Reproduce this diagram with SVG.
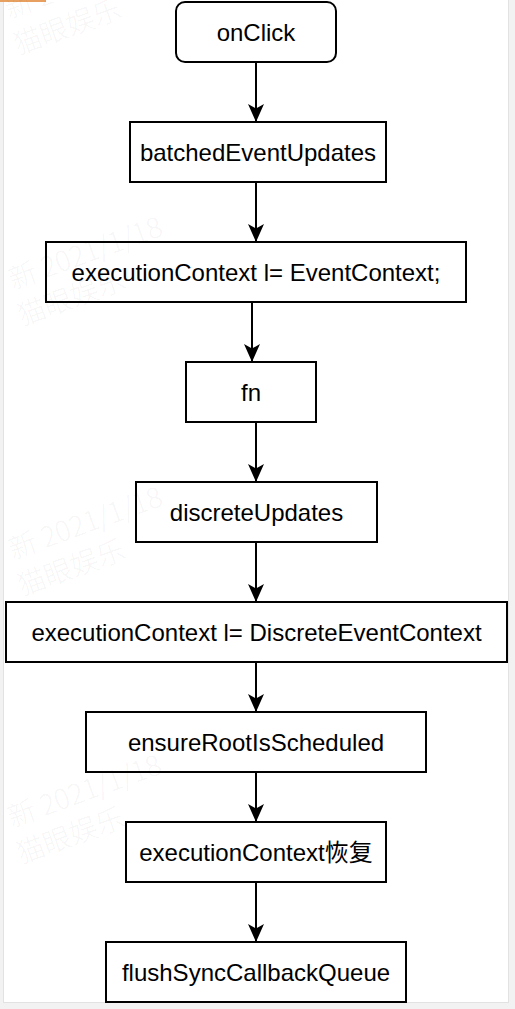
<svg xmlns="http://www.w3.org/2000/svg" width="515" height="1009" viewBox="0 0 515 1009">
<style>
.box{fill:#fff;stroke:#000;stroke-width:2}
.lbl{font-family:"Liberation Sans","Noto Sans CJK SC",Arial,sans-serif;font-size:24px;fill:#000;text-anchor:middle}
.wm{font-family:"Noto Sans CJK SC","Liberation Sans",sans-serif;font-size:28px;font-weight:300;fill:#000;fill-opacity:0.05}
.conn{stroke:#000;stroke-width:2;fill:none}
</style>
<defs>
<marker id="arr" viewBox="0 0 18 16" refX="18" refY="8" markerWidth="18" markerHeight="16" markerUnits="userSpaceOnUse" orient="auto">
<path d="M0,0 L18,8 L0,16 L4.5,8 Z" fill="#000"/>
</marker>
<g id="wmark">
<text class="wm" x="4" y="-37">新 2021/1/18</text>
<text class="wm" x="0" y="0">猫眼娱乐</text>
</g>
</defs>
<rect x="0" y="0" width="515" height="1009" fill="#f2f2f2"/>
<rect x="3.5" y="-1" width="505" height="1003.5" fill="#fff" stroke="#e2e2e2" stroke-width="1"/>
<rect x="0" y="0" width="46" height="2" fill="#e8a060"/>
<g id="connectors">
<line class="conn" x1="256" y1="62" x2="256" y2="122" marker-end="url(#arr)"/>
<line class="conn" x1="256" y1="182" x2="256" y2="242" marker-end="url(#arr)"/>
<line class="conn" x1="252" y1="302" x2="252" y2="362" marker-end="url(#arr)"/>
<line class="conn" x1="256" y1="422" x2="256" y2="482" marker-end="url(#arr)"/>
<line class="conn" x1="256" y1="542" x2="256" y2="602" marker-end="url(#arr)"/>
<line class="conn" x1="256" y1="662" x2="256" y2="712" marker-end="url(#arr)"/>
<line class="conn" x1="256" y1="772" x2="256" y2="822" marker-end="url(#arr)"/>
<line class="conn" x1="256" y1="882" x2="256" y2="942" marker-end="url(#arr)"/>
</g>
<g id="onClick">
<rect class="box" x="176" y="2" width="160" height="60" rx="9"/>
<text class="lbl" x="256" y="40.5">onClick</text>
</g>
<g id="batchedEventUpdates">
<rect class="box" x="130" y="122" width="256" height="60"/>
<text class="lbl" x="258" y="160.5">batchedEventUpdates</text>
</g>
<g id="setEventContext">
<rect class="box" x="46" y="242" width="420" height="60"/>
<text class="lbl" x="256" y="280.5">executionContext l= EventContext;</text>
</g>
<g id="fn">
<rect class="box" x="186" y="362" width="130" height="60"/>
<text class="lbl" x="251" y="400.5">fn</text>
</g>
<g id="discreteUpdates">
<rect class="box" x="136" y="482" width="241" height="60"/>
<text class="lbl" x="256.5" y="520.5">discreteUpdates</text>
</g>
<g id="setDiscreteEventContext">
<rect class="box" x="6" y="602" width="501" height="60"/>
<text class="lbl" x="256.5" y="640.5">executionContext l= DiscreteEventContext</text>
</g>
<g id="ensureRootIsScheduled">
<rect class="box" x="86" y="712" width="340" height="60"/>
<text class="lbl" x="256" y="750.5">ensureRootIsScheduled</text>
</g>
<g id="restoreContext">
<rect class="box" x="126" y="822" width="260" height="60"/>
<text class="lbl" x="256" y="860.5">executionContext恢复</text>
</g>
<g id="flushSyncCallbackQueue">
<rect class="box" x="106" y="942" width="300" height="60"/>
<text class="lbl" x="256" y="980.5">flushSyncCallbackQueue</text>
</g>
<g id="watermarks">
<use href="#wmark" transform="translate(18,55) rotate(-20)"/>
<use href="#wmark" transform="translate(22,326) rotate(-20)"/>
<use href="#wmark" transform="translate(22,596) rotate(-20)"/>
<use href="#wmark" transform="translate(21,864) rotate(-20)"/>
</g>
</svg>
